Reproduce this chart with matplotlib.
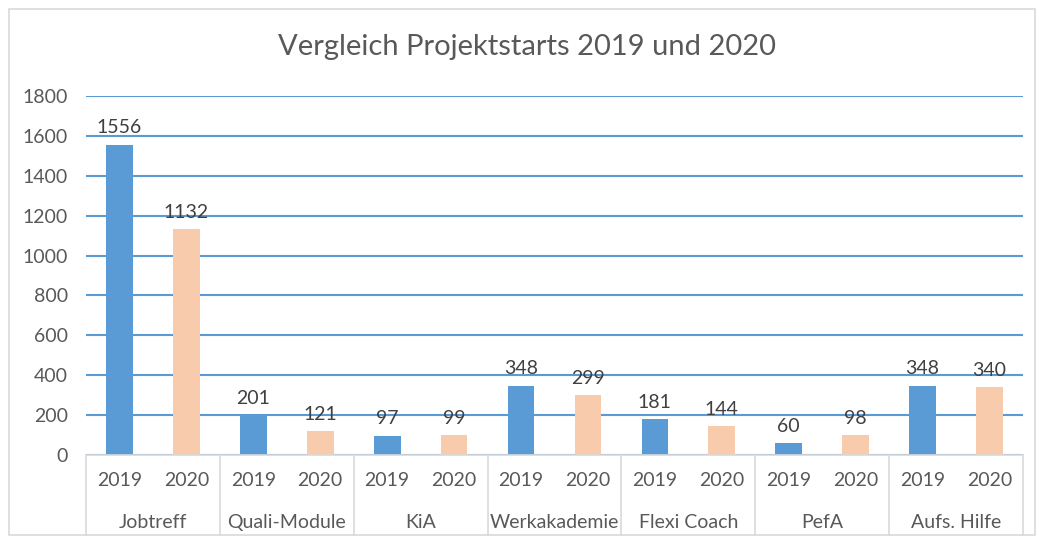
import numpy as np
import matplotlib.pyplot as plt
from matplotlib.patches import Rectangle
from matplotlib.transforms import blended_transform_factory

plt.rcParams['font.family'] = ['Lato', 'DejaVu Sans']

groups = ['Jobtreff', 'Quali-Module', 'KiA', 'Werkakademie', 'Flexi Coach', 'PefA', 'Aufs. Hilfe']
years = ['2019', '2020']
starts_2019 = [1556, 201, 97, 348, 181, 60, 348]
starts_2020 = [1132, 121, 99, 299, 144, 98, 340]
yticks = [0, 200, 400, 600, 800, 1000, 1200, 1400, 1600, 1800]

blue = '#5B9BD5'
peach = '#F8CBAD'
txt = '#595959'
line_grey = '#D9D9D9'
fs = 14

fig = plt.figure(figsize=(10.39, 5.42), dpi=100)
ax = fig.add_axes([86/1039, 1 - 455/542, (1023 - 86)/1039, (455 - 96)/542])

n = len(groups)
x19 = np.arange(n) * 2
x20 = x19 + 1
ax.bar(x19, starts_2019, width=0.4, color=blue, zorder=3)
ax.bar(x20, starts_2020, width=0.4, color=peach, zorder=3)

for xs, vals in [(x19, starts_2019), (x20, starts_2020)]:
    for x, v in zip(xs, vals):
        ax.annotate(str(v), (x, v), xytext=(0, 6), textcoords='offset points',
                    ha='center', va='bottom', fontsize=fs, color='#404040')

ax.set_xlim(-0.5, 2 * n - 0.5)
ax.set_ylim(0, 1800)
ax.set_yticks(yticks)
ax.tick_params(axis='y', length=0, labelsize=fs, labelcolor=txt, pad=13)
ax.yaxis.grid(True, color=blue, linewidth=1.5, zorder=0)
ax.set_xticks([])
for s in ['top', 'right', 'left']:
    ax.spines[s].set_visible(False)
ax.spines['bottom'].set_color(line_grey)
ax.spines['bottom'].set_linewidth(1.2)
ax.spines['bottom'].set_zorder(4)

trans = blended_transform_factory(ax.transData, ax.transAxes)
for i, g in enumerate(groups):
    ax.text(x19[i], -0.072, years[0], transform=trans, ha='center', va='center', fontsize=fs, color=txt)
    ax.text(x20[i], -0.072, years[1], transform=trans, ha='center', va='center', fontsize=fs, color=txt)
    ax.text(x19[i] + 0.5, -0.187, g, transform=trans, ha='center', va='center', fontsize=fs, color=txt)
for b in np.arange(n + 1) * 2 - 0.5:
    ax.plot([b, b], [0, -0.223], transform=trans, color=line_grey, linewidth=1.2, clip_on=False)

fig.text(527/1039, 1 - 47/542, 'Vergleich Projektstarts 2019 und 2020', ha='center', va='center',
         fontsize=21, color=txt)
fig.patches.append(Rectangle((9/1039, 1 - 535/542), (1035 - 9)/1039, (535 - 9)/542,
                             transform=fig.transFigure, fill=False, edgecolor=line_grey, linewidth=1.2))

fig.savefig('out.png', dpi=100, facecolor='white')
